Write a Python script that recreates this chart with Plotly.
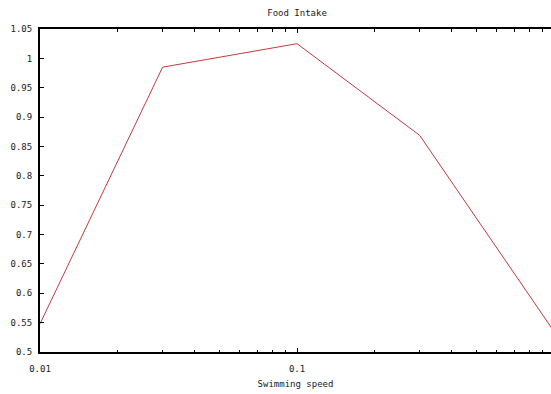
import plotly.graph_objects as go

# Food intake as a function of swimming speed (log-scaled speed axis)
speeds = [0.01, 0.03, 0.1, 0.3, 1.0]
intake = [0.548, 0.985, 1.025, 0.869, 0.535]

y_ticks = [0.5, 0.55, 0.6, 0.65, 0.7, 0.75, 0.8, 0.85, 0.9, 0.95, 1.0, 1.05]
y_tick_text = ["0.5", "0.55", "0.6", "0.65", "0.7", "0.75", "0.8", "0.85", "0.9", "0.95", "1", "1.05"]
x_ticks = [0.01, 0.1, 1]
x_tick_text = ["0.01", "0.1", "1"]
x_minor = [0.02, 0.03, 0.04, 0.05, 0.06, 0.07, 0.08, 0.09,
           0.2, 0.3, 0.4, 0.5, 0.6, 0.7, 0.8, 0.9]

FONT = "DejaVu Sans Mono"
TEXT = "#1a1a1a"

fig = go.Figure(
    go.Scatter(
        x=speeds, y=intake, mode="lines",
        line=dict(color="#c8383c", width=1),
        showlegend=False,
    )
)

fig.update_layout(
    width=551, height=394,
    margin=dict(l=40, r=0, t=29, b=42),
    paper_bgcolor="white", plot_bgcolor="white",
    font=dict(family=FONT, size=9, color=TEXT),
    title=dict(
        text="Food Intake", x=0.503, xref="paper", xanchor="center",
        y=1 - 13 / 394, yref="container", yanchor="middle",
        font=dict(family=FONT, size=9, color=TEXT),
    ),
)

fig.update_xaxes(
    type="log", range=[-2, -2 + 511 / 257],
    tickvals=x_ticks, ticktext=x_tick_text,
    ticks="inside", ticklen=4, tickwidth=1, tickcolor="black",
    minor=dict(tickvals=x_minor, ticks="inside", ticklen=2.5, tickwidth=1, tickcolor="black"),
    showline=True, linecolor="black", linewidth=2, mirror="ticks",
    showgrid=False, zeroline=False,
    ticklabelstandoff=7,
    title=dict(text="Swimming speed", standoff=8, font=dict(family=FONT, size=9, color=TEXT)),
)

fig.update_yaxes(
    range=[0.5, 1.05],
    tickvals=y_ticks, ticktext=y_tick_text,
    ticks="inside", ticklen=4, tickwidth=1, tickcolor="black",
    showline=True, linecolor="black", linewidth=2,
    showgrid=False, zeroline=False,
    ticklabelstandoff=4,
)

fig.write_html("out.html")
